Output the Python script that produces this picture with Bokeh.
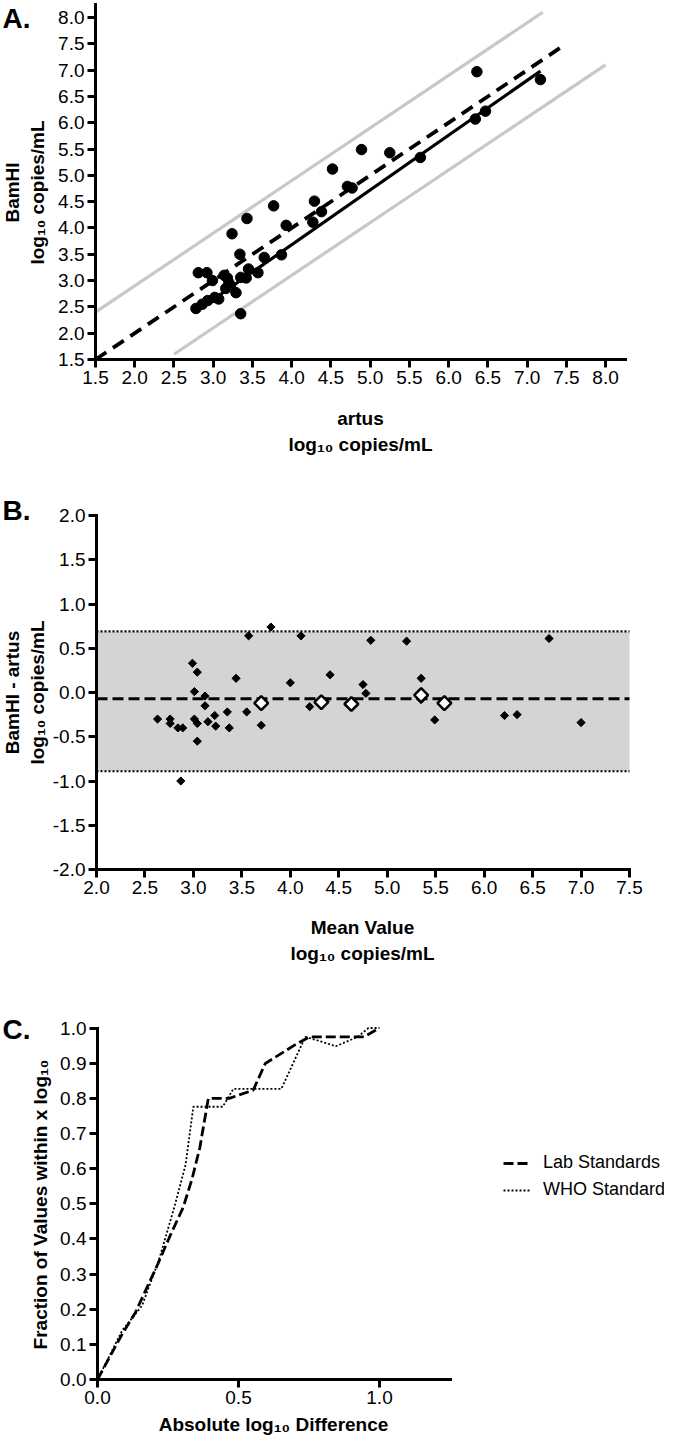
import numpy as np
from bokeh.plotting import figure
from bokeh.models import (Label, Legend, LegendItem, FixedTicker, Range1d,
                          PrintfTickFormatter, BoxAnnotation, LinearAxis)
from bokeh.layouts import column
from bokeh.embed import file_html
from bokeh.resources import INLINE

FONT = "Liberation Sans"
W = 664  # figure width (window 680 minus 2 x 8px margin)

# ---------------- Panel A data ----------------
a_artus = [6.36, 7.17, 6.34, 6.47, 5.64, 5.25, 4.89, 4.52, 4.71, 4.77, 4.29, 4.38,
           4.27, 3.93, 3.77, 3.43, 3.24, 3.34, 3.65, 3.87, 3.45, 3.57, 2.81, 2.92,
           2.99, 3.14, 3.20, 3.35, 3.42, 3.16, 3.22, 3.29, 3.07, 2.93, 2.78, 2.86,
           3.35, 3.02, 3.18]
a_bamhi = [6.97, 6.82, 6.07, 6.22, 5.34, 5.43, 5.49, 5.12, 4.79, 4.76, 4.51, 4.31,
           4.11, 4.05, 4.42, 4.18, 3.89, 3.50, 3.44, 3.49, 3.22, 3.15, 3.15, 3.15,
           3.00, 3.10, 2.96, 3.06, 3.05, 2.85, 2.90, 2.77, 2.65, 2.62, 2.47, 2.55,
           2.37, 2.68, 3.05]
a_identity_x = [1.5, 7.5]
a_identity_y = [1.5, 7.5]
a_fit_x = [2.76, 7.17]
a_fit_y = [2.39, 6.98]
a_upper_x = [1.5, 7.2]
a_upper_y = [2.4, 8.1]
a_lower_x = [2.5, 8.0]
a_lower_y = [1.6, 7.1]
a_ticks = [1.5, 2.0, 2.5, 3.0, 3.5, 4.0, 4.5, 5.0, 5.5, 6.0, 6.5, 7.0, 7.5, 8.0]
a_axis_end = 8.25

# ---------------- Panel B data ----------------
b_mean = [2.63, 2.76, 2.76, 2.84, 2.89, 2.87, 2.99, 3.04, 3.01, 3.01, 3.04, 3.04,
          3.12, 3.12, 3.15, 3.22, 3.23, 3.35, 3.37, 3.44, 3.55, 3.57, 3.70, 3.80,
          4.00, 4.11, 4.20, 4.36, 4.41, 4.75, 4.78, 4.83, 5.20, 5.35, 5.35, 5.49,
          6.21, 6.34, 6.67, 7.00]
b_diff = [-0.30, -0.30, -0.35, -0.40, -0.40, -1.00, 0.33, 0.23, 0.01, -0.30, -0.35, -0.55,
          -0.04, -0.15, -0.33, -0.26, -0.38, -0.22, -0.40, 0.16, -0.22, 0.64, -0.37, 0.74,
          0.11, 0.64, -0.16, -0.10, 0.20, 0.09, -0.01, 0.59, 0.58, 0.16, -0.08, -0.31,
          -0.26, -0.25, 0.61, -0.34]
b_open_mean = [3.70, 4.32, 4.63, 5.35, 5.59]
b_open_diff = [-0.12, -0.11, -0.13, -0.03, -0.12]
b_bias = -0.07
b_upper = 0.69
b_lower = -0.89
b_xticks = [2.0, 2.5, 3.0, 3.5, 4.0, 4.5, 5.0, 5.5, 6.0, 6.5, 7.0, 7.5]
b_yticks = [-2.0, -1.5, -1.0, -0.5, 0.0, 0.5, 1.0, 1.5, 2.0]

# ---------------- Panel C data ----------------
lab_x = [0, 0.088, 0.134, 0.212, 0.258, 0.304, 0.335, 0.363, 0.393, 0.467, 0.552,
         0.595, 0.706, 0.753, 0.946, 1.0]
lab_y = [0, 0.13, 0.19, 0.325, 0.41, 0.49, 0.57, 0.66, 0.80, 0.80, 0.823,
         0.899, 0.955, 0.975, 0.975, 1.0]
who_x = [0, 0.088, 0.158, 0.219, 0.274, 0.312, 0.34, 0.444, 0.482, 0.652, 0.737,
         0.799, 0.845, 0.923, 0.961, 1.0]
who_y = [0, 0.14, 0.21, 0.343, 0.495, 0.61, 0.776, 0.776, 0.827, 0.827, 0.975,
         0.96, 0.948, 0.975, 1.0, 1.0]
c_xticks = [0.0, 0.5, 1.0]
c_yticks = [0.0, 0.1, 0.2, 0.3, 0.4, 0.5, 0.6, 0.7, 0.8, 0.9, 1.0]
c_axis_end = 1.25


def make_fig(h, top, xd, xp, kx, yd, yp, ky):
    """Figure whose frame fills the whole canvas; data value xd sits at page x xp
    (kx px per unit), yd at page y yp (ky px per unit); figure top at page y top."""
    x0 = xd - (xp - 8) / kx
    y0 = yd - (top + h - yp) / ky
    p = figure(width=W, height=h, x_range=Range1d(x0, x0 + W / kx),
               y_range=Range1d(y0, y0 + h / ky), min_border=0,
               x_axis_location=None, y_axis_location=None,
               output_backend="svg", toolbar_location=None, title=None)
    p.outline_line_color = None
    p.background_fill_color = "white"
    p.border_fill_color = "white"
    p.grid.visible = False
    return p, (xd, kx, xp, yd, ky, yp)


def add_axes(p, xticks, yticks, xbounds, ybounds):
    xa = LinearAxis(fixed_location=ybounds[0], bounds=xbounds,
                    ticker=FixedTicker(ticks=xticks))
    ya = LinearAxis(fixed_location=xbounds[0], bounds=ybounds,
                    ticker=FixedTicker(ticks=yticks))
    for ax in (xa, ya):
        ax.axis_line_width = 3
        ax.axis_line_color = "black"
        ax.axis_line_cap = "square"
        ax.major_tick_line_width = 3
        ax.major_tick_line_color = "black"
        ax.major_tick_out = 8
        ax.major_tick_in = 0
        ax.minor_tick_line_color = None
        ax.major_label_text_font = FONT
        ax.major_label_text_font_size = "19px"
        ax.major_label_text_color = "black"
        ax.major_label_standoff = 3
        ax.formatter = PrintfTickFormatter(format="%.1f")
    p.add_layout(xa, "below")
    p.add_layout(ya, "left")


def put(p, geom, X, Y, text, size="19px", bold=True, angle=0.0, align="center"):
    xd, kx, xp, yd, ky, yp = geom
    p.add_layout(Label(x=xd + (X - xp) / kx, y=yd + (yp - Y) / ky, text=text,
                       text_font=FONT, text_font_size=size,
                       text_font_style="bold" if bold else "normal", angle=angle,
                       text_align=align, text_baseline="middle", text_color="black"))


LOG = "log\u2081\u2080 copies/mL"

# ---------------- Figure A ----------------
pA, gA = make_fig(470, 8, 1.5, 103, 530 / 6.754, 1.5, 367, 354 / 6.728)
add_axes(pA, a_ticks, a_ticks, (a_ticks[0], a_axis_end), (a_ticks[0], a_axis_end))
pA.line(a_upper_x, a_upper_y, line_color="#c8c8c8", line_width=3.2)
pA.line(a_lower_x, a_lower_y, line_color="#c8c8c8", line_width=3.2)
pA.line(a_identity_x, a_identity_y, line_color="black", line_width=3.8, line_dash="13 8")
pA.line(a_fit_x, a_fit_y, line_color="black", line_width=3.2)
pA.scatter(a_artus, a_bamhi, marker="circle", size=10.5, color="black")
put(pA, gA, 10, 26, "A.", size="28px", align="left")
put(pA, gA, 20, 200, "BamHI", angle=np.pi / 2)
put(pA, gA, 45, 200, LOG, angle=np.pi / 2)
put(pA, gA, 368, 426, "artus")
put(pA, gA, 368, 452, LOG)

# ---------------- Figure B ----------------
pB, gB = make_fig(512, 478, 2.0, 104, 533 / 5.5, -2.0, 877, 354 / 4.0)
pB.add_layout(BoxAnnotation(left=b_xticks[0], right=b_xticks[-1], bottom=b_lower,
                            top=b_upper, fill_color="#d4d4d4", fill_alpha=1.0,
                            line_color=None, level="underlay"))
x_ends = [b_xticks[0], b_xticks[-1]]
pB.line(x_ends, [b_upper, b_upper], line_color="black", line_width=2.2, line_dash="2 2")
pB.line(x_ends, [b_lower, b_lower], line_color="black", line_width=2.2, line_dash="2 2")
pB.line(x_ends, [b_bias, b_bias], line_color="black", line_width=3, line_dash="11 5")
add_axes(pB, b_xticks, b_yticks, (b_xticks[0], b_xticks[-1]), (b_yticks[0], b_yticks[-1]))
pB.scatter(b_mean, b_diff, marker="square", angle=np.pi / 4, size=5.8, color="black")
pB.scatter(b_open_mean, b_open_diff, marker="square", angle=np.pi / 4, size=9.8,
           fill_color="white", line_color="black", line_width=2.5)
put(pB, gB, 10, 518, "B.", size="28px", align="left")
put(pB, gB, 20, 700, "BamHI - artus", angle=np.pi / 2)
put(pB, gB, 45, 700, LOG, angle=np.pi / 2)
put(pB, gB, 370, 935, "Mean Value")
put(pB, gB, 370, 961, LOG)

# ---------------- Figure C ----------------
pC, gC = make_fig(455, 990, 0.0, 105, 282.0, 0.0, 1387, 351.5)
add_axes(pC, c_xticks, c_yticks, (c_xticks[0], c_axis_end), (c_yticks[0], c_yticks[-1]))
r_lab = pC.line(lab_x, lab_y, line_color="black", line_width=2.8, line_dash="10 4")
r_who = pC.line(who_x, who_y, line_color="black", line_width=1.8, line_dash="2 2")
legend = Legend(items=[LegendItem(label="Lab Standards", renderers=[r_lab]),
                       LegendItem(label="WHO Standard", renderers=[r_who])],
                location=(503, 237), glyph_width=28, glyph_height=20, label_height=20,
                spacing=6, padding=0, margin=0, border_line_color=None,
                background_fill_alpha=0, label_text_font=FONT, label_text_color="black",
                label_text_font_size="18px", label_standoff=12)
pC.add_layout(legend)
put(pC, gC, 10, 1037, "C.", size="28px", align="left")
put(pC, gC, 48, 1212, "Fraction of Values within x log\u2081\u2080", angle=np.pi / 2)
put(pC, gC, 281, 1432, "Absolute log\u2081\u2080 Difference")

layout = column(pA, pB, pC)
open("out.html", "w").write(file_html(layout, INLINE))
